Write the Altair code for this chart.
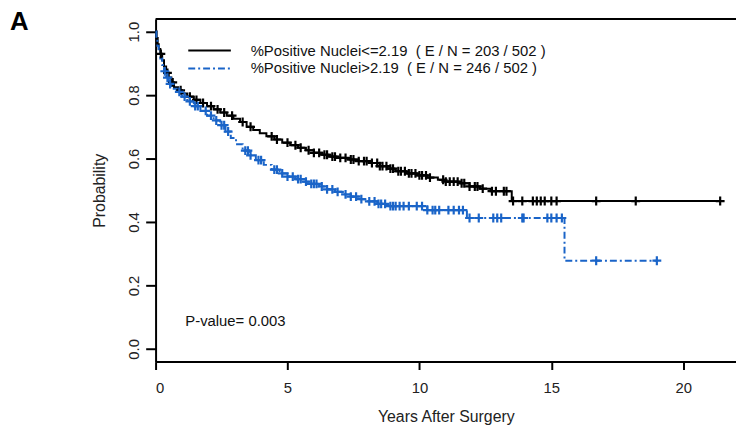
import altair as alt
import pandas as pd
import numpy as np

FONT = "Liberation Sans"
BLUE = "#1a64c8"

# Kaplan-Meier step vertices (years, survival)
low_t = [0, 0.04, 0.08, 0.12, 0.18, 0.25, 0.32, 0.4, 0.5, 0.6, 0.7, 0.85, 1.0, 1.2, 1.45, 1.7,
         1.95, 2.2, 2.45, 2.7, 2.95, 3.2, 3.45, 3.7, 3.95, 4.2, 4.5, 4.8, 5.1, 5.4, 5.7, 6.0,
         6.3, 6.6, 6.9, 7.3, 7.7, 8.1, 8.5, 8.8, 9.1, 9.5, 9.9, 10.3, 10.7, 11.0, 11.5, 11.9,
         12.3, 12.7, 13.5, 21.4]
low_s = [1.0, 0.98, 0.96, 0.945, 0.93, 0.91, 0.89, 0.87, 0.855, 0.84, 0.825, 0.815, 0.805, 0.795,
         0.785, 0.775, 0.765, 0.755, 0.745, 0.735, 0.725, 0.715, 0.70, 0.69, 0.68, 0.67, 0.66,
         0.65, 0.642, 0.634, 0.626, 0.618, 0.612, 0.606, 0.602, 0.597, 0.592, 0.586, 0.576,
         0.568, 0.56, 0.553, 0.547, 0.54, 0.533, 0.527, 0.522, 0.512, 0.505, 0.497, 0.466, 0.466]
low_cens = [0.2, 0.45, 0.65, 0.95, 1.3, 1.55, 1.8, 2.1, 2.35, 2.6, 2.9, 3.3, 3.6, 4.4, 4.6, 5.0,
            5.3, 5.5, 5.8, 6.0, 6.2, 6.4, 6.5, 6.7, 6.8, 7.0, 7.2, 7.4, 7.5, 7.7, 7.9, 8.0, 8.2,
            8.4, 8.5, 8.6, 8.75, 8.9, 9.0, 9.2, 9.3, 9.45, 9.6, 9.7, 9.85, 10.0, 10.1, 10.25,
            10.4, 10.9, 11.0, 11.15, 11.3, 11.45, 11.6, 11.7, 11.9, 12.1, 12.2, 12.4, 12.75,
            12.9, 13.2, 13.3, 13.55, 13.9, 14.3, 14.45, 14.6, 14.75, 15.0, 15.2, 16.7, 18.2, 21.4]

high_t = [0, 0.03, 0.07, 0.12, 0.18, 0.25, 0.32, 0.4, 0.5, 0.6, 0.8, 1.0, 1.2, 1.45, 1.7, 1.95,
          2.2, 2.45, 2.65, 2.85, 3.05, 3.3, 3.55, 3.8, 4.1, 4.4, 4.7, 5.0, 5.3, 5.6, 5.9, 6.2,
          6.5, 6.8, 7.1, 7.4, 7.7, 8.0, 8.4, 8.8, 10.3, 11.8, 15.5, 19.0]
high_s = [1.0, 0.975, 0.955, 0.935, 0.915, 0.895, 0.875, 0.855, 0.835, 0.82, 0.81, 0.795, 0.78,
          0.765, 0.75, 0.735, 0.72, 0.705, 0.685, 0.665, 0.645, 0.625, 0.61, 0.595, 0.58, 0.565,
          0.553, 0.543, 0.535, 0.527, 0.52, 0.512, 0.503, 0.495, 0.487, 0.48, 0.472, 0.465,
          0.457, 0.45, 0.4375, 0.4125, 0.278, 0.278]
high_cens = [0.35, 0.45, 0.55, 0.9, 1.1, 1.3, 1.5, 1.6, 1.9, 2.1, 2.3, 2.5, 2.6, 2.75, 3.4, 3.5,
             3.6, 3.9, 4.0, 4.5, 4.6, 4.8, 5.0, 5.2, 5.4, 5.5, 5.7, 5.9, 6.0, 6.1, 6.3, 6.5, 6.7,
             6.9, 7.2, 7.4, 7.6, 7.8, 8.1, 8.3, 8.45, 8.55, 8.7, 8.9, 9.0, 9.1, 9.25, 9.4, 9.6,
             9.9, 10.1, 10.3, 10.5, 10.6, 10.75, 11.1, 11.3, 11.5, 11.65, 11.9, 12.25, 12.8,
             12.95, 13.1, 13.9, 13.95, 14.85, 15.0, 15.2, 15.4, 16.7, 19.0]

legend_labels = ["%Positive Nuclei<=2.19\u00a0\u00a0( E / N = 203 / 502 )",
                 "%Positive Nuclei>2.19\u00a0\u00a0( E / N = 246 / 502 )"]
pvalue_text = "P-value= 0.003"
panel_label = "A"
x_ticks = [0, 5, 10, 15, 20]
y_ticks = [0.0, 0.2, 0.4, 0.6, 0.8, 1.0]

W, H = 586, 346


def step_lookup(ts, ss, q):
    idx = np.searchsorted(np.array(ts), np.array(q), side="right") - 1
    return [ss[i] for i in idx]


low_df = pd.DataFrame({"t": low_t, "s": low_s})
high_df = pd.DataFrame({"t": high_t, "s": high_s})
low_c = pd.DataFrame({"t": low_cens, "s": step_lookup(low_t, low_s, low_cens)})
high_c = pd.DataFrame({"t": high_cens, "s": step_lookup(high_t, high_s, high_cens)})

xs = alt.Scale(domain=[0, 22.0], nice=False, zero=False)
ys = alt.Scale(domain=[-0.04, 1.04], nice=False, zero=False)

X = alt.X("t:Q", scale=xs, axis=alt.Axis(
    values=x_ticks, format="d", title="Years After Surgery", grid=False,
    domainColor="black", domainWidth=2, tickColor="black", tickWidth=2, tickSize=8,
    labelFont=FONT, labelFontSize=15, labelColor="#222", labelPadding=11,
    titleFont=FONT, titleFontSize=16, titleFontWeight="normal", titleColor="#222",
    titlePadding=13))
Y = alt.Y("s:Q", scale=ys, axis=alt.Axis(
    values=y_ticks, format=".1f", title="Probability", grid=False,
    domainColor="black", domainWidth=2, tickColor="black", tickWidth=2, tickSize=10,
    labelFont=FONT, labelFontSize=15, labelColor="#222", labelAngle=270,
    labelAlign="center", labelBaseline="bottom", labelPadding=4,
    titleFont=FONT, titleFontSize=16, titleFontWeight="normal", titleColor="#222",
    titlePadding=20))

cross = "M-1,0L1,0M0,-1L0,1"

low_line = alt.Chart(low_df).mark_line(interpolate="step-after", color="black",
                                        strokeWidth=2).encode(x=X, y=Y)
high_line = alt.Chart(high_df).mark_line(interpolate="step-after", color=BLUE,
                                          strokeWidth=2, strokeDash=[7, 3, 2, 3]).encode(x=X, y=Y)
low_pts = alt.Chart(low_c).mark_point(shape=cross, filled=False, color="black", size=80,
                                      strokeWidth=2.2, opacity=1).encode(x=X, y=Y)
high_pts = alt.Chart(high_c).mark_point(shape=cross, filled=False, color=BLUE, size=80,
                                        strokeWidth=2.2, opacity=1).encode(x=X, y=Y)

one = pd.DataFrame({"a": [0]})
top_border = alt.Chart(one).mark_rule(color="black", strokeWidth=2).encode(
    x=alt.value(0), x2=alt.value(W), y=alt.value(0))
leg1 = alt.Chart(one).mark_rule(color="black", strokeWidth=2).encode(
    x=alt.value(33), x2=alt.value(76), y=alt.value(32))
leg2 = alt.Chart(one).mark_rule(color=BLUE, strokeWidth=2, strokeDash=[7, 3, 2, 3]).encode(
    x=alt.value(33), x2=alt.value(76), y=alt.value(50))
leg_t1 = alt.Chart(one).mark_text(text=legend_labels[0], font=FONT, fontSize=15,
                                  align="left", baseline="middle", color="#111").encode(
    x=alt.value(96), y=alt.value(32))
leg_t2 = alt.Chart(one).mark_text(text=legend_labels[1], font=FONT, fontSize=15,
                                  align="left", baseline="middle", color="#111").encode(
    x=alt.value(96), y=alt.value(50))
pval = alt.Chart(one).mark_text(text=pvalue_text, font=FONT, fontSize=15,
                                align="left", baseline="middle", color="#111").encode(
    x=alt.value(30), y=alt.value(305))
panel = alt.Chart(one).mark_text(text=panel_label, font=FONT, fontSize=26, fontWeight="bold",
                                 align="left", baseline="alphabetic", color="black").encode(
    x=alt.value(-147), y=alt.value(11))

chart = alt.layer(low_line, high_line, low_pts, high_pts, top_border,
                  leg1, leg2, leg_t1, leg_t2, pval, panel).properties(
    width=W, height=H,
    autosize=alt.AutoSizeParams(type="none"),
    padding={"left": 149, "top": 9, "right": 0, "bottom": 63},
    background="white",
).configure_view(stroke=None)

chart.save("out.html", embed_options={"renderer": "svg", "actions": False})
